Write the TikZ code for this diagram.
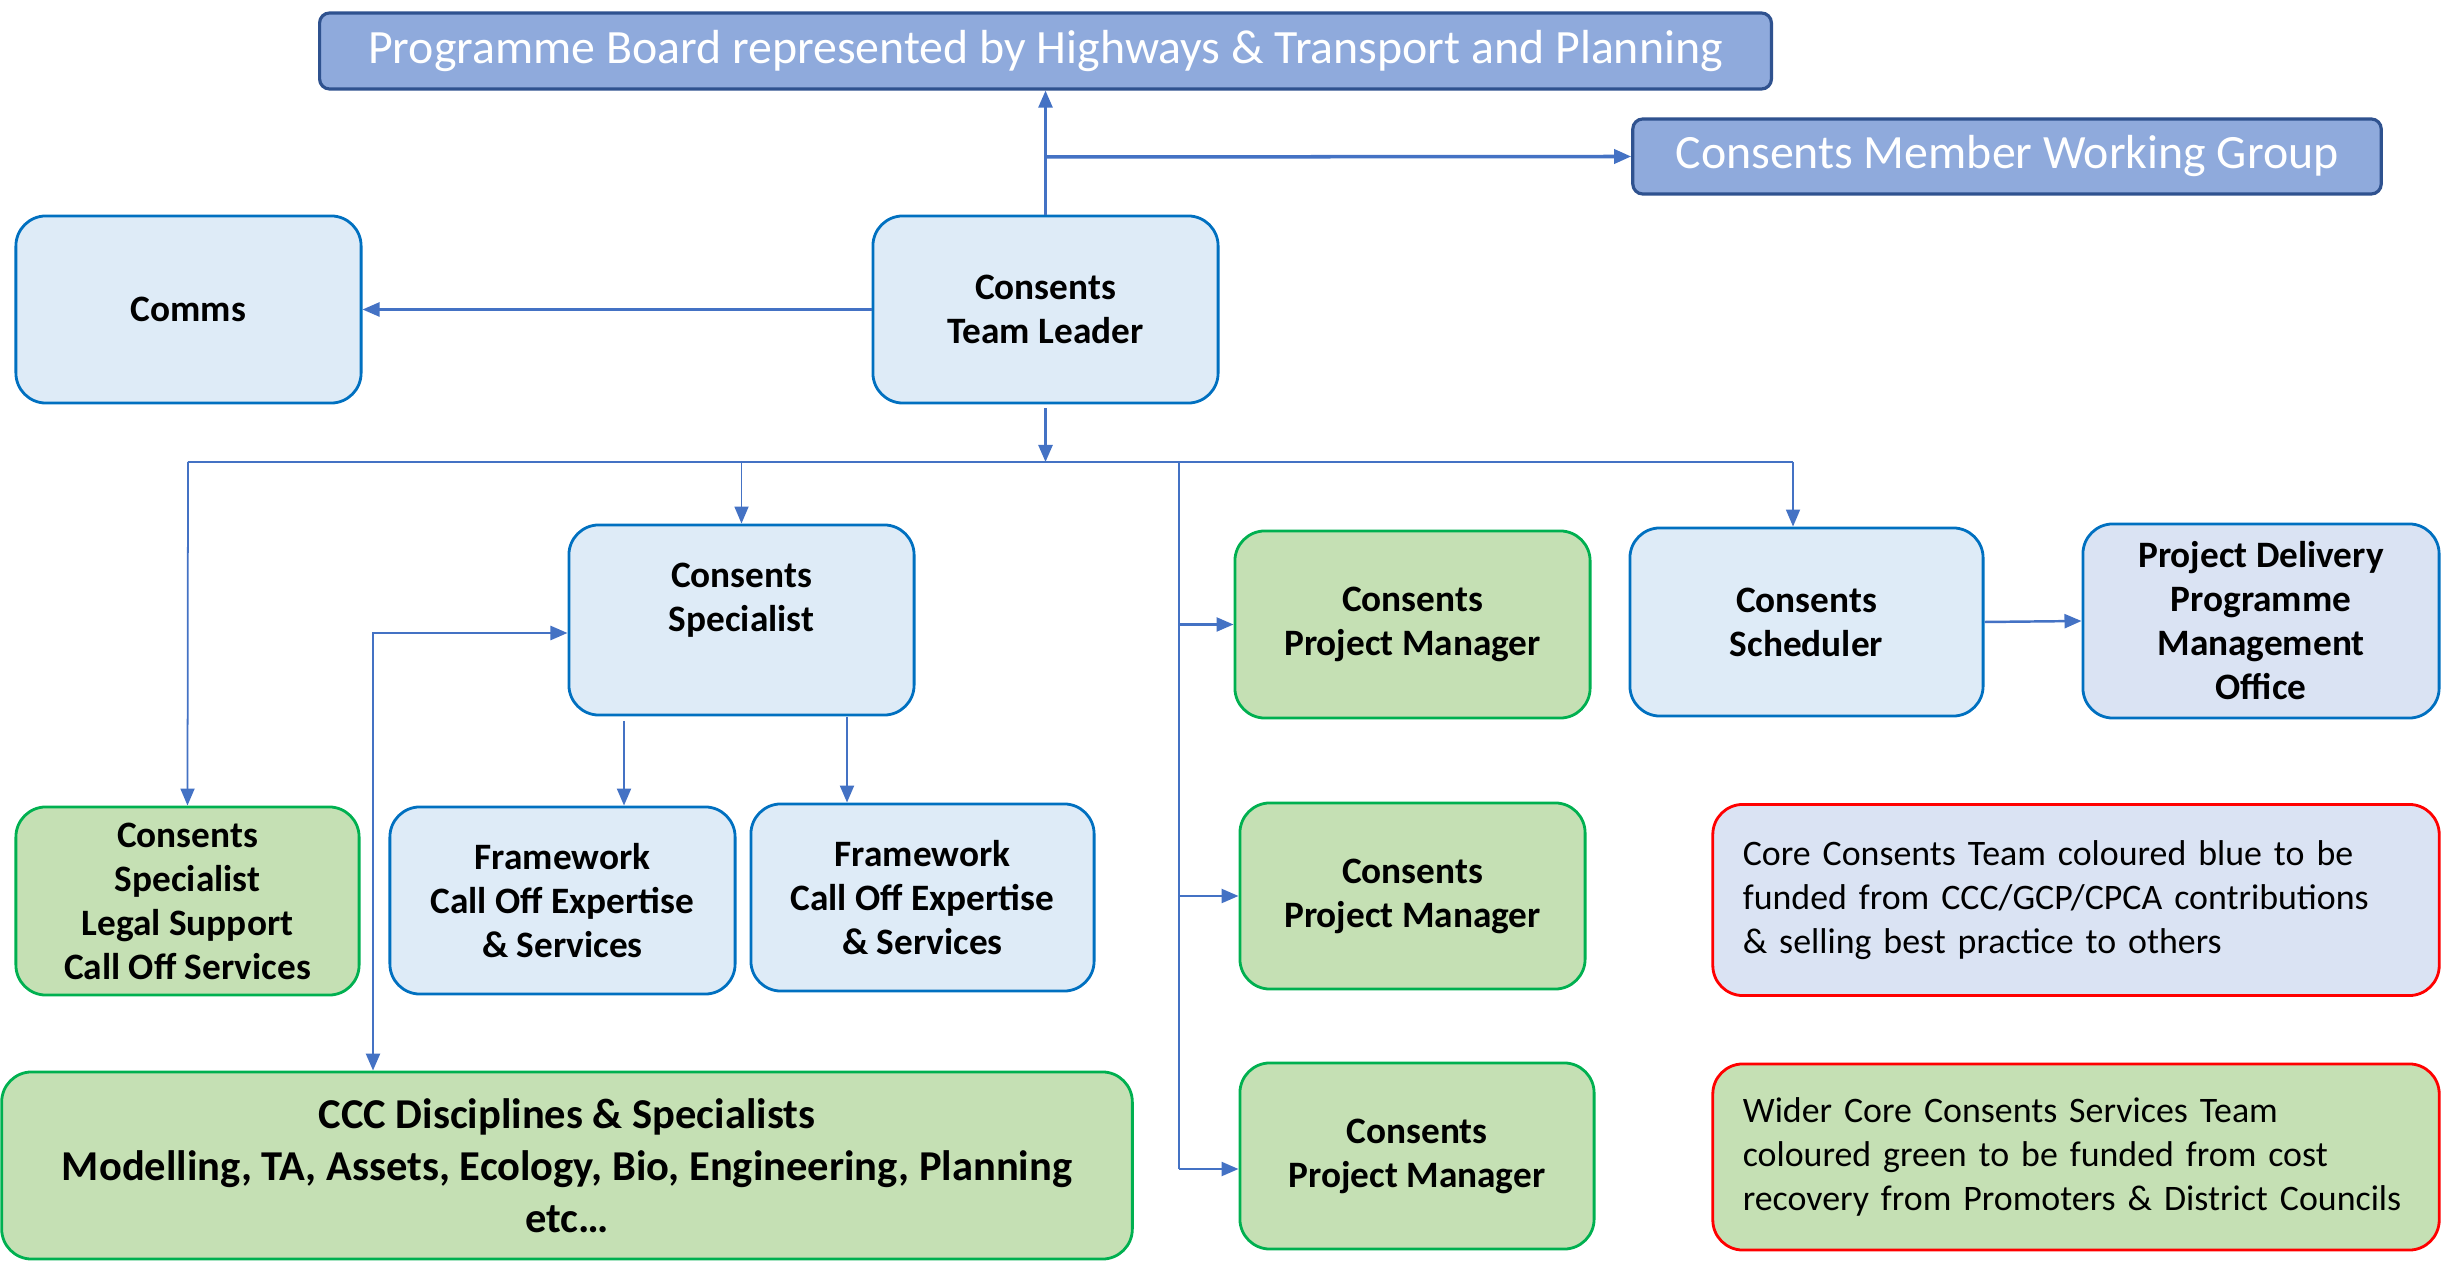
\documentclass[tikz,border=0pt]{standalone}
\usepackage{fontspec}
\setmainfont{Carlito}
\usetikzlibrary{arrows.meta,calc}
\definecolor{pbfill}{HTML}{8FAADC}
\definecolor{pbdraw}{HTML}{2F528F}
\definecolor{lbfill}{HTML}{DEEBF7}
\definecolor{lbdraw}{HTML}{0070C0}
\definecolor{pofill}{HTML}{DAE3F3}
\definecolor{gfill}{HTML}{C5E0B4}
\definecolor{gdraw}{HTML}{00B050}
\definecolor{wire}{HTML}{4472C4}
\definecolor{redline}{HTML}{FF0000}
\tikzset{
  boldtext/.style={font=\fontsize{10.6}{12.5}\selectfont\bfseries},
  box/.style={rounded corners=0.3cm, line width=0.8pt, align=center, inner sep=0pt, boldtext},
  bluebox/.style={box, fill=lbfill, draw=lbdraw},
  greenbox/.style={box, fill=gfill, draw=gdraw},
  headbox/.style={rounded corners=0.1cm, line width=0.9pt, fill=pbfill, draw=pbdraw,
    text=white, inner sep=0pt, font=\fontsize{13.6}{16}\selectfont},
  notebox/.style={rounded corners=0.3cm, line width=0.8pt, draw=redline, align=left,
    inner sep=0pt, font=\fontsize{10.2}{12.5}\selectfont},
  link/.style={draw=wire, line width=0.7pt, -{Triangle[length=0.17cm,width=0.14cm]}},
  thin/.style={draw=wire, line width=0.4pt},
}
\begin{document}
\begin{tikzpicture}[x=0.01cm, y=-0.01cm]
\useasboundingbox (0,0) rectangle (2458,1268);

% top level
\node[headbox, minimum width=14.51cm, minimum height=0.76cm] (pb) at (1045.5,51)
  {Programme Board represented by Highways \& Transport and Planning};
\node[headbox, minimum width=7.48cm, minimum height=0.75cm] (mwg) at (2007,156.5)
  {Consents Member Working Group};
\node[bluebox, minimum width=3.45cm, minimum height=1.87cm] (comms) at (188.5,309.5) {Comms};
\node[bluebox, minimum width=3.45cm, minimum height=1.87cm] (tl) at (1045.5,309.5)
  {Consents\\Team Leader};

% second row
\node[bluebox, minimum width=3.45cm, minimum height=1.90cm] (spec) at (741.5,620) {};
\node[boldtext, align=center, inner sep=0pt]
  (spectext) at ([yshift=0.2cm]spec.center) {Consents\\Specialist};
\node[greenbox, minimum width=3.55cm, minimum height=1.87cm] (pm1) at (1412.5,624.5)
  {Consents\\Project Manager};
\node[bluebox, minimum width=3.53cm, minimum height=1.88cm] (sched) at (1806.5,622)
  {Consents\\Scheduler};
\node[box, fill=pofill, draw=lbdraw, minimum width=3.56cm, minimum height=1.94cm] (pdpmo)
  at (2261,621) {Project Delivery\\Programme\\Management\\Office};

% third row
\node[greenbox, minimum width=3.43cm, minimum height=1.88cm] (legal) at (187.5,901)
  {Consents\\Specialist\\Legal Support\\Call Off Services};
\node[bluebox, minimum width=3.45cm, minimum height=1.87cm] (fw1) at (562.5,900.5)
  {Framework\\Call Off Expertise\\\& Services};
\node[bluebox, minimum width=3.43cm, minimum height=1.87cm] (fw2) at (922.5,897.5)
  {Framework\\Call Off Expertise\\\& Services};
\node[greenbox, minimum width=3.45cm, minimum height=1.86cm] (pm2) at (1412.5,896)
  {Consents\\Project Manager};
\node[notebox, fill=pofill, minimum width=7.26cm, minimum height=1.91cm, text width=6.66cm]
  (leg1) at (2076,900)
  {Core Consents Team coloured blue to be\\funded from CCC/GCP/CPCA contributions\\\& selling best practice to others};

% bottom row
\node[greenbox, minimum width=11.30cm, minimum height=1.87cm,
  font=\fontsize{12.1}{14.8}\selectfont\bfseries] (ccc) at (567,1165.5)
  {CCC Disciplines \& Specialists\\Modelling, TA, Assets, Ecology, Bio, Engineering, Planning\\etc\ldots};
\node[greenbox, minimum width=3.54cm, minimum height=1.86cm] (pm3) at (1417,1156)
  {Consents\\Project Manager};
\node[notebox, fill=gfill, minimum width=7.26cm, minimum height=1.86cm, text width=6.66cm]
  (leg2) at (2076,1157)
  {Wider Core Consents Services Team\\coloured green to be funded from cost\\recovery from Promoters \& District Councils};

% junction points of the wiring
\coordinate (j1) at (1045.5,157);
\coordinate (busL) at (188,462);
\coordinate (busR) at (1793,462);
\coordinate (spine) at (1179,462);
\coordinate (fa) at (624,721);
\coordinate (fb) at (847,717);
\coordinate (lx) at (373,0);
\coordinate (specin) at ([yshift=-0.13cm]spec.west);
\coordinate (pm3in) at ([yshift=-0.13cm]pm3.west);

% connectors from the team leader
\draw[link] (tl.north) -- (pb.south);
\draw[link, line width=1pt] (j1) -- (mwg.west);
\draw[link] (tl.west) -- (comms.east);
\draw[link] ([yshift=-0.04cm]tl.south) -- (tl.south |- busL);

% distribution bus
\draw[thin] (busL) -- (busR);
\draw[link, line width=0.5pt] (busL) -- (legal.north);
\draw[link, line width=0.5pt] (spec.north |- busL) -- (spec.north);
\draw[link, line width=0.5pt] (busR) -- (busR |- sched.north);
\draw[thin] (spine) -- (spine |- pm3in);
\draw[link] (spine |- pm1.west) -- (pm1.west);
\draw[link] (spine |- pm2.west) -- (pm2.west);
\draw[link] (spine |- pm3in) -- (pm3in);

% scheduler to programme office
\draw[link] (sched.east) -- (pdpmo.west);

% specialist to frameworks and disciplines
\draw[link, line width=0.6pt] (fa) -- (fa |- fw1.north);
\draw[link, line width=0.6pt] (fb) -- (fb |- fw2.north);
\draw[link, {Triangle[length=0.17cm,width=0.14cm]}-{Triangle[length=0.17cm,width=0.14cm]}]
  (specin) -- (lx |- specin) -- (lx |- ccc.north);
\end{tikzpicture}
\end{document}
